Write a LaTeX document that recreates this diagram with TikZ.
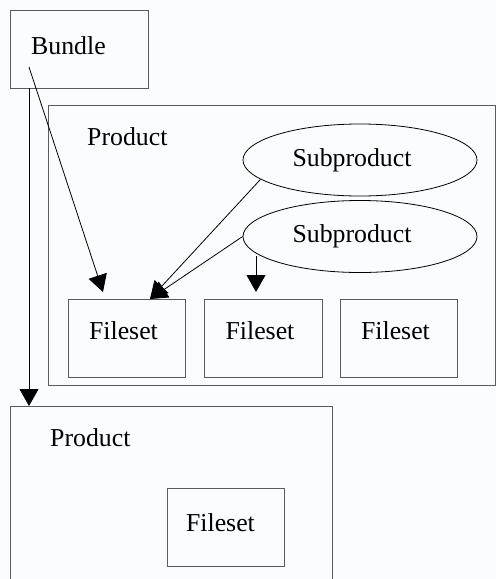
\documentclass[tikz,border=0pt]{standalone}
\usepackage{fontspec}
\setmainfont{Liberation Serif}
\usetikzlibrary{shapes.geometric,arrows.meta}
\definecolor{paper}{RGB}{251,252,254}
\definecolor{edge}{RGB}{90,90,90}

\begin{document}
\begin{tikzpicture}[x=1pt,y=-1pt,
    box/.style={draw=edge, fill=paper, line width=1pt, inner sep=0pt, outer sep=0pt},
    blob/.style={ellipse, draw, fill=paper, line width=0.8pt, inner sep=0pt,
      minimum width=234pt, minimum height=72pt},
    txt/.style={anchor=base west, inner sep=0pt},
    arr/.style={-{Triangle[length=17pt,width=19pt]}, line width=0.8pt},
    font=\fontsize{25.8pt}{30pt}\selectfont]
  \useasboundingbox (0,0) rectangle (496,579);
  \clip (0,0) rectangle (496,579);
  \fill[paper] (0,0) rectangle (496,579);

  % bundle
  \node[box, minimum width=138pt, minimum height=78pt](Bundle) at (79,49) {};
  \node[txt](BundleTxt) at (31,54) {Bundle};

  % first product with its subproducts and filesets
  \node[box, minimum width=447pt, minimum height=280pt](Prod) at (271.5,245) {};
  \node[txt](ProdTxt) at (87,145) {Product};
  \node[blob, label={[xshift=-8pt]center:Subproduct}](Sub) at (360,160) {};
  \node[blob, label={[xshift=-8pt]center:Subproduct}](Subb) at (360,236.5) {};
  \node[box, minimum width=117pt, minimum height=78pt,
    label={[xshift=-3pt,yshift=7pt]center:Fileset}](Fs1) at (126.5,338) {};
  \node[box, minimum width=118pt, minimum height=78pt,
    label={[xshift=-3pt,yshift=7pt]center:Fileset}](Fs2) at (263,338) {};
  \node[box, minimum width=117pt, minimum height=78pt,
    label={[xshift=-3pt,yshift=7pt]center:Fileset}](Fs3) at (398.5,338) {};

  % second product, runs off the bottom
  \node[box, minimum width=322pt, minimum height=214pt](ProdB) at (171,513) {};
  \node[txt](ProdBTxt) at (50,446) {Product};
  \node[box, minimum width=117pt, minimum height=78pt,
    label={[xshift=-5pt,yshift=4pt]center:Fileset}](Fs4) at (225.5,527) {};

  % links
  \coordinate (Root) at (29,67);
  \coordinate (SubbFoot) at (256,256);
  \draw[arr] (Root) -- ([xshift=35pt,yshift=7pt]Fs1.north west);
  \draw[arr] (Root |- Bundle.south) -- (Root |- ProdB.north);
  \draw[arr] (Sub.191) -- ([xshift=82pt]Fs1.north west);
  \draw[arr] (Subb.west) -- ([xshift=82pt]Fs1.north west);
  \draw[arr, shorten >=7pt] (SubbFoot) -- (SubbFoot |- Fs2.north);
\end{tikzpicture}
\end{document}
